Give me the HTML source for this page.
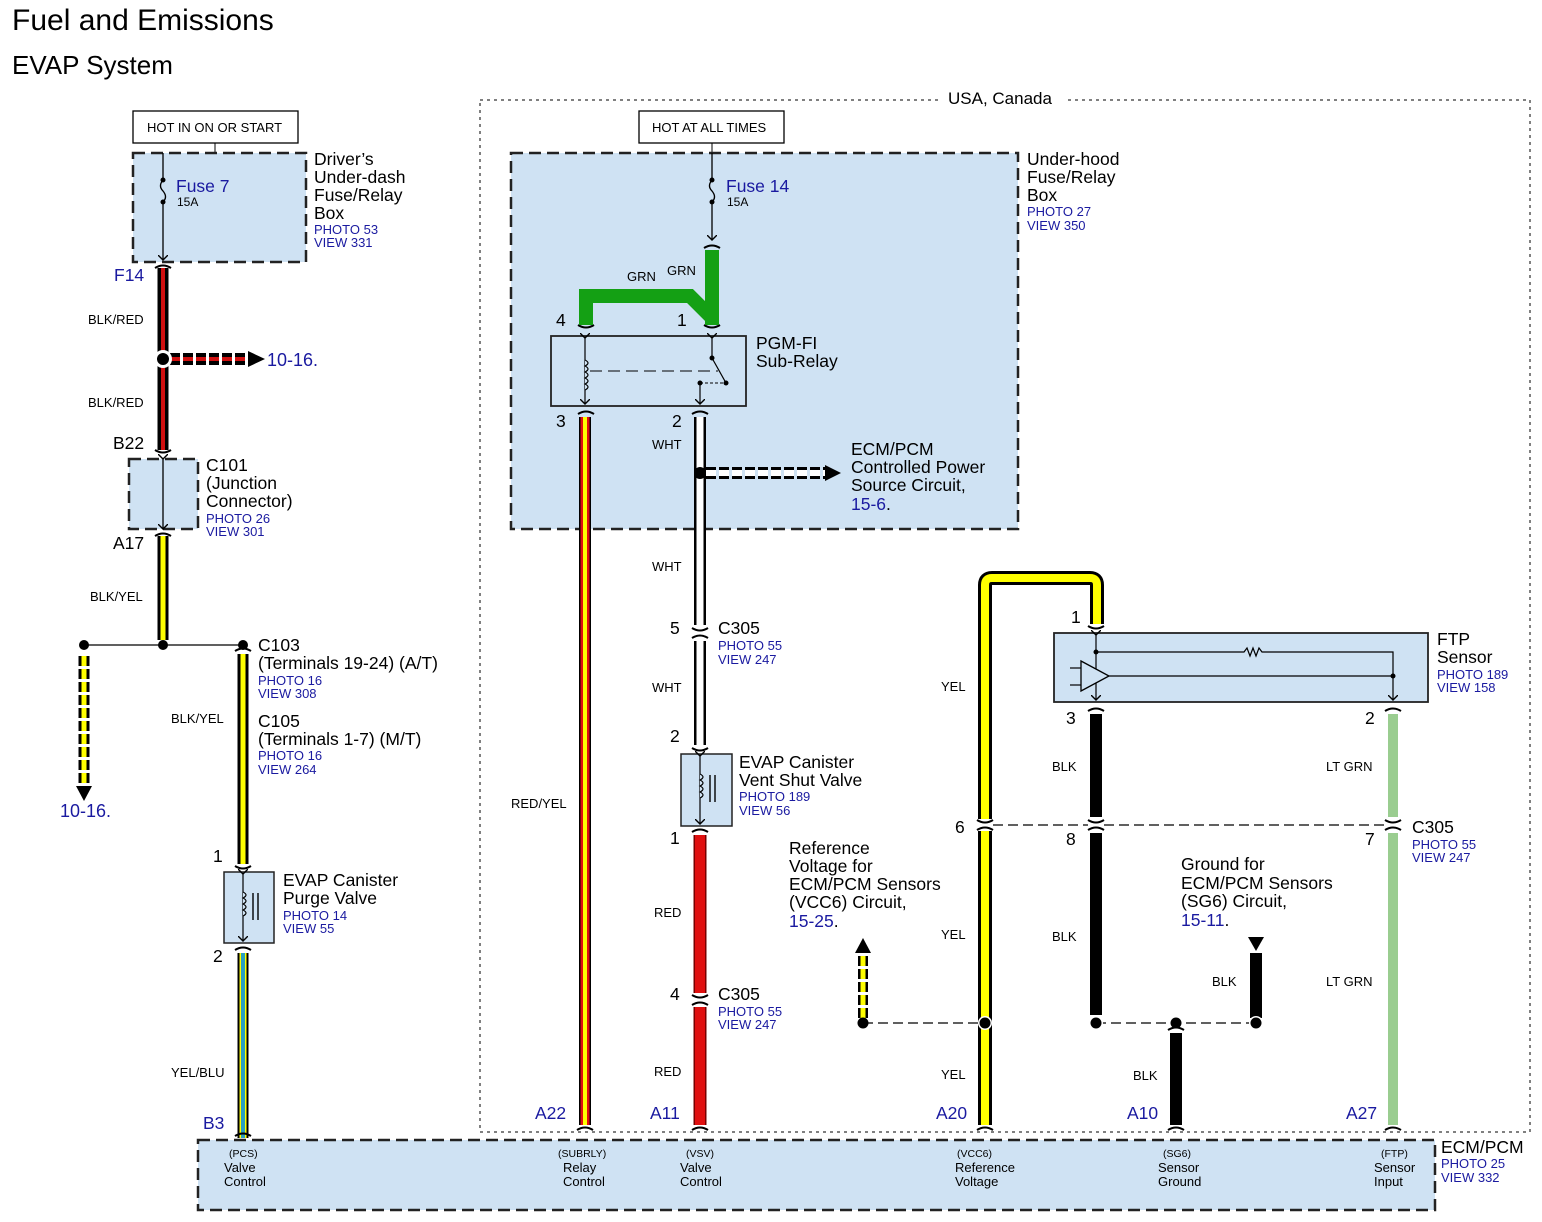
<!DOCTYPE html>
<html><head><meta charset="utf-8"><style>
html,body{margin:0;padding:0;background:#fff;}
svg{display:block;font-family:"Liberation Sans",Arial,sans-serif;}
.b{fill:#1a1aa0}
</style></head><body>
<svg width="1542" height="1222" viewBox="0 0 1542 1222" xmlns="http://www.w3.org/2000/svg">
<defs>
<marker id="ah" markerWidth="10" markerHeight="10" refX="5" refY="5" orient="auto" markerUnits="userSpaceOnUse"><path d="M0,0 L5,5 L0,10" fill="none" stroke="#000" stroke-width="1.4"/></marker>
</defs>
<rect width="1542" height="1222" fill="#fff"/>
<text x="12" y="30" font-size="30">Fuel and Emissions</text>
<text x="12" y="74" font-size="26">EVAP System</text>

<rect x="480" y="100" width="1050" height="1032" fill="none" stroke="#000" stroke-width="1" stroke-dasharray="3,4"/>
<rect x="942" y="88" width="122" height="20" fill="#fff"/>
<text x="948" y="104" font-size="17">USA, Canada</text>

<rect x="133" y="111" width="165" height="32" fill="#fff" stroke="#000" stroke-width="1.3"/>
<text x="147" y="132" font-size="13">HOT IN ON OR START</text>
<rect x="639" y="111" width="145" height="32" fill="#fff" stroke="#000" stroke-width="1.3"/>
<text x="652" y="132" font-size="13">HOT AT ALL TIMES</text>
<line x1="215" y1="143" x2="215" y2="153" stroke="#000"/>
<line x1="712" y1="143" x2="712" y2="153" stroke="#000"/>

<g fill="#cfe2f3" stroke="#222" stroke-width="2.5" stroke-dasharray="12,6">
<rect x="133" y="153" width="173" height="109"/>
<rect x="511" y="153" width="507" height="376"/>
<rect x="129" y="459" width="69" height="70"/>
<rect x="198" y="1140" width="1237" height="70"/>
</g>

<line x1="163" y1="153" x2="163" y2="180" stroke="#000" stroke-width="1.3"/>
<path d="M163,180 q-5,6 0,11 q5,6 0,11" fill="none" stroke="#000" stroke-width="1.3"/>
<circle cx="163" cy="180" r="2.5"/><circle cx="163" cy="202" r="2.5"/>
<line x1="163" y1="202" x2="163" y2="260" stroke="#000" stroke-width="1.3" marker-end="url(#ah)"/>
<text x="176" y="192" font-size="17.5" class="b">Fuse 7</text>
<text x="177" y="206" font-size="12">15A</text>
<text x="314" y="165" font-size="17.5">Driver’s</text>
<text x="314" y="183" font-size="17.5">Under-dash</text>
<text x="314" y="201" font-size="17.5">Fuse/Relay</text>
<text x="314" y="219" font-size="17.5">Box</text>
<text x="314" y="234" font-size="13" class="b">PHOTO 53</text>
<text x="314" y="247" font-size="13" class="b">VIEW 331</text>

<line x1="712" y1="153" x2="712" y2="180" stroke="#000" stroke-width="1.3"/>
<path d="M712,180 q-5,6 0,11 q5,6 0,11" fill="none" stroke="#000" stroke-width="1.3"/>
<circle cx="712" cy="180" r="2.5"/><circle cx="712" cy="202" r="2.5"/>
<line x1="712" y1="202" x2="712" y2="240" stroke="#000" stroke-width="1.3" marker-end="url(#ah)"/>
<text x="726" y="192" font-size="17.5" class="b">Fuse 14</text>
<text x="727" y="206" font-size="12">15A</text>
<text x="1027" y="165" font-size="17.5">Under-hood</text>
<text x="1027" y="183" font-size="17.5">Fuse/Relay</text>
<text x="1027" y="201" font-size="17.5">Box</text>
<text x="1027" y="216" font-size="13" class="b">PHOTO 27</text>
<text x="1027" y="230" font-size="13" class="b">VIEW 350</text>

<g fill="none" stroke="#000" stroke-width="2">
<path d="M155,268 q8,-5 16,0 M155,450 q8,5 16,0 M155,536 q8,-5 16,0 M235,651 q8,-5 16,0 M235,866 q8,5 16,0 M235,950 q8,-5 16,0"/>
<path d="M704,248 q8,-5 16,0 M578,325 q8,5 16,0 M704,325 q8,5 16,0 M578,414 q8,-5 16,0 M692,414 q8,-5 16,0"/>
<path d="M692,628 q8,5 16,0 M692,638 q8,-5 16,0 M692,748 q8,5 16,0 M692,832 q8,-5 16,0 M692,995 q8,5 16,0 M692,1005 q8,-5 16,0"/>
<path d="M1088,626 q8,5 16,0 M1088,711 q8,-5 16,0 M1385,711 q8,-5 16,0"/>
<path d="M977,820 q8,5 16,0 M977,830 q8,-5 16,0 M1088,820 q8,5 16,0 M1088,830 q8,-5 16,0 M1385,820 q8,5 16,0 M1385,830 q8,-5 16,0"/>
<path d="M1168,1030 q8,-5 16,0"/>
</g>

<line x1="163" y1="268" x2="163" y2="450" stroke="#000" stroke-width="11"/>
<line x1="163" y1="268" x2="163" y2="450" stroke="#d01010" stroke-width="4"/>
<line x1="163" y1="459" x2="163" y2="529" stroke="#000" stroke-width="1.3" marker-start="url(#ah)" marker-end="url(#ah)"/>
<line x1="163" y1="536" x2="163" y2="640" stroke="#000" stroke-width="11"/>
<line x1="163" y1="536" x2="163" y2="640" stroke="#ffff00" stroke-width="5"/>
<text x="88" y="324" font-size="13">BLK/RED</text>
<text x="88" y="407" font-size="13">BLK/RED</text>
<text x="114" y="281" font-size="17.5" class="b">F14</text>
<text x="113" y="449" font-size="17.5">B22</text>
<text x="113" y="549" font-size="17.5">A17</text>
<text x="206" y="471" font-size="17.5">C101</text>
<text x="206" y="489" font-size="17.5">(Junction</text>
<text x="206" y="507" font-size="17.5">Connector)</text>
<text x="206" y="523" font-size="13" class="b">PHOTO 26</text>
<text x="206" y="536" font-size="13" class="b">VIEW 301</text>
<text x="90" y="601" font-size="13">BLK/YEL</text>
<line x1="170" y1="359" x2="250" y2="359" stroke="#000" stroke-width="12" stroke-dasharray="10,3"/>
<line x1="170" y1="359" x2="250" y2="359" stroke="#d01010" stroke-width="4" stroke-dasharray="10,3"/>
<path d="M248,351 L265,359 L248,367 Z"/>
<circle cx="163" cy="359" r="9" fill="#fff"/><circle cx="163" cy="359" r="6"/>
<text x="267" y="366" font-size="18" class="b">10-16.</text>

<line x1="84" y1="645" x2="243" y2="645" stroke="#000" stroke-width="1.3"/>
<circle cx="84" cy="645" r="5"/><circle cx="163" cy="645" r="5"/><circle cx="243" cy="645" r="5"/>
<line x1="84" y1="656" x2="84" y2="786" stroke="#000" stroke-width="11" stroke-dasharray="10,3"/>
<line x1="84" y1="656" x2="84" y2="786" stroke="#ffff00" stroke-width="5" stroke-dasharray="10,3"/>
<path d="M76,786 L84,801 L92,786 Z"/>
<text x="60" y="817" font-size="18" class="b">10-16.</text>

<line x1="243" y1="654" x2="243" y2="864" stroke="#000" stroke-width="11"/>
<line x1="243" y1="654" x2="243" y2="864" stroke="#ffff00" stroke-width="5"/>
<text x="171" y="723" font-size="13">BLK/YEL</text>
<text x="258" y="651" font-size="17.5">C103</text>
<text x="258" y="669" font-size="17.5">(Terminals 19-24) (A/T)</text>
<text x="258" y="685" font-size="13" class="b">PHOTO 16</text>
<text x="258" y="698" font-size="13" class="b">VIEW 308</text>
<text x="258" y="727" font-size="17.5">C105</text>
<text x="258" y="745" font-size="17.5">(Terminals 1-7) (M/T)</text>
<text x="258" y="760" font-size="13" class="b">PHOTO 16</text>
<text x="258" y="774" font-size="13" class="b">VIEW 264</text>
<text x="213" y="862" font-size="17.5">1</text>
<text x="213" y="962" font-size="17.5">2</text>
<rect x="224" y="872" width="50" height="71" fill="#cfe2f3" stroke="#222" stroke-width="1.5"/>
<line x1="243" y1="874" x2="243" y2="941" stroke="#000" stroke-width="1.2" marker-start="url(#ah)" marker-end="url(#ah)"/>
<path d="M243,892 q6,3 0,6 q6,3 0,6 q6,3 0,6 q6,3 0,6" fill="#cfe2f3" stroke="#000" stroke-width="1.2"/>
<line x1="253" y1="893" x2="253" y2="920" stroke="#000" stroke-width="1.4"/>
<line x1="258" y1="893" x2="258" y2="920" stroke="#000" stroke-width="1.4"/>
<text x="283" y="886" font-size="17.5">EVAP Canister</text>
<text x="283" y="904" font-size="17.5">Purge Valve</text>
<text x="283" y="920" font-size="13" class="b">PHOTO 14</text>
<text x="283" y="933" font-size="13" class="b">VIEW 55</text>
<line x1="243" y1="953" x2="243" y2="1138" stroke="#000" stroke-width="11"/>
<line x1="243" y1="953" x2="243" y2="1138" stroke="#ffff00" stroke-width="7"/>
<line x1="243" y1="953" x2="243" y2="1138" stroke="#2aa0c0" stroke-width="4"/>
<text x="171" y="1077" font-size="13">YEL/BLU</text>
<text x="203" y="1129" font-size="17.5" class="b">B3</text>

<path d="M712,250 L712,325 M712,318 L690,296 L586,296 L586,325" fill="none" stroke="#14a014" stroke-width="14" stroke-linejoin="miter"/>
<text x="627" y="281" font-size="13">GRN</text>
<text x="667" y="275" font-size="13">GRN</text>
<text x="556" y="326" font-size="17.5">4</text>
<text x="677" y="326" font-size="17.5">1</text>
<rect x="551" y="336" width="195" height="70" fill="#cfe2f3" stroke="#222" stroke-width="1.8"/>
<line x1="585" y1="338" x2="585" y2="404" stroke="#000" stroke-width="1.2" marker-start="url(#ah)" marker-end="url(#ah)"/>
<path d="M585,360 q6,3 0,6 q6,3 0,6 q6,3 0,6 q6,3 0,6 q6,3 0,6" fill="#cfe2f3" stroke="#000" stroke-width="1.2"/>
<line x1="712" y1="338" x2="712" y2="358" stroke="#000" stroke-width="1.2" marker-start="url(#ah)"/>
<circle cx="712" cy="358" r="2.5"/>
<line x1="712" y1="358" x2="726" y2="383" stroke="#000" stroke-width="1.2"/>
<circle cx="726" cy="383" r="2.5"/><circle cx="700" cy="383" r="2.5"/>
<line x1="700" y1="383" x2="726" y2="383" stroke="#000" stroke-width="1" stroke-dasharray="3,2"/>
<line x1="700" y1="383" x2="700" y2="404" stroke="#000" stroke-width="1.2" marker-end="url(#ah)"/>
<line x1="590" y1="371" x2="718" y2="371" stroke="#000" stroke-width="1" stroke-dasharray="12,6"/>
<text x="756" y="349" font-size="17.5">PGM-FI</text>
<text x="756" y="367" font-size="17.5">Sub-Relay</text>
<text x="556" y="427" font-size="17.5">3</text>
<text x="672" y="427" font-size="17.5">2</text>

<line x1="585" y1="417" x2="585" y2="1125" stroke="#000" stroke-width="12"/>
<line x1="585" y1="417" x2="585" y2="1125" stroke="#e01010" stroke-width="9"/>
<line x1="585" y1="417" x2="585" y2="1125" stroke="#ffff00" stroke-width="4"/>
<text x="511" y="808" font-size="13">RED/YEL</text>
<text x="535" y="1119" font-size="17.5" class="b">A22</text>

<line x1="700" y1="417" x2="700" y2="625" stroke="#000" stroke-width="12"/>
<line x1="700" y1="417" x2="700" y2="625" stroke="#fff" stroke-width="7"/>
<line x1="700" y1="641" x2="700" y2="745" stroke="#000" stroke-width="12"/>
<line x1="700" y1="641" x2="700" y2="745" stroke="#fff" stroke-width="7"/>
<text x="652" y="449" font-size="13">WHT</text>
<text x="652" y="571" font-size="13">WHT</text>
<text x="652" y="692" font-size="13">WHT</text>
<line x1="706" y1="473" x2="826" y2="473" stroke="#000" stroke-width="12" stroke-dasharray="10,3"/>
<line x1="706" y1="473" x2="826" y2="473" stroke="#fff" stroke-width="6" stroke-dasharray="10,3"/>
<path d="M825,465 L841,473 L825,481 Z"/>
<circle cx="700" cy="473" r="6"/>
<text x="851" y="455" font-size="17.5">ECM/PCM</text>
<text x="851" y="473" font-size="17.5">Controlled Power</text>
<text x="851" y="491" font-size="17.5">Source Circuit,</text>
<text x="851" y="510" font-size="17.5" class="b">15-6<tspan fill="#000">.</tspan></text>
<text x="670" y="634" font-size="17.5">5</text>
<text x="718" y="634" font-size="17.5">C305</text>
<text x="718" y="650" font-size="13" class="b">PHOTO 55</text>
<text x="718" y="664" font-size="13" class="b">VIEW 247</text>
<text x="670" y="742" font-size="17.5">2</text>
<rect x="681" y="754" width="51" height="72" fill="#cfe2f3" stroke="#222" stroke-width="1.5"/>
<line x1="700" y1="756" x2="700" y2="824" stroke="#000" stroke-width="1.2" marker-start="url(#ah)" marker-end="url(#ah)"/>
<path d="M700,774 q6,3 0,6 q6,3 0,6 q6,3 0,6 q6,3 0,6" fill="#cfe2f3" stroke="#000" stroke-width="1.2"/>
<line x1="710" y1="775" x2="710" y2="802" stroke="#000" stroke-width="1.4"/>
<line x1="715" y1="775" x2="715" y2="802" stroke="#000" stroke-width="1.4"/>
<text x="739" y="768" font-size="17.5">EVAP Canister</text>
<text x="739" y="786" font-size="17.5">Vent Shut Valve</text>
<text x="739" y="801" font-size="13" class="b">PHOTO 189</text>
<text x="739" y="815" font-size="13" class="b">VIEW 56</text>
<text x="670" y="844" font-size="17.5">1</text>
<line x1="700" y1="835" x2="700" y2="993" stroke="#7a0000" stroke-width="13"/>
<line x1="700" y1="835" x2="700" y2="993" stroke="#e01010" stroke-width="10"/>
<line x1="700" y1="1007" x2="700" y2="1125" stroke="#7a0000" stroke-width="13"/>
<line x1="700" y1="1007" x2="700" y2="1125" stroke="#e01010" stroke-width="10"/>
<text x="654" y="917" font-size="13">RED</text>
<text x="654" y="1076" font-size="13">RED</text>
<text x="670" y="1000" font-size="17.5">4</text>
<text x="718" y="1000" font-size="17.5">C305</text>
<text x="718" y="1016" font-size="13" class="b">PHOTO 55</text>
<text x="718" y="1029" font-size="13" class="b">VIEW 247</text>
<text x="650" y="1119" font-size="17.5" class="b">A11</text>

<path d="M985,1125 L985,585 Q985,578 992,578 L1090,578 Q1097,578 1097,585 L1097,624" fill="none" stroke="#000" stroke-width="14"/>
<path d="M985,1125 L985,585 Q985,578 992,578 L1090,578 Q1097,578 1097,585 L1097,624" fill="none" stroke="#ffff00" stroke-width="8"/>
<rect x="976" y="819" width="18" height="12" fill="#fff"/>
<path d="M977,820 q8,5 16,0 M977,830 q8,-5 16,0" fill="none" stroke="#000" stroke-width="2"/>
<text x="941" y="691" font-size="13">YEL</text>
<text x="941" y="939" font-size="13">YEL</text>
<text x="941" y="1079" font-size="13">YEL</text>
<text x="955" y="833" font-size="17.5">6</text>
<text x="936" y="1119" font-size="17.5" class="b">A20</text>
<text x="1071" y="623" font-size="17.5">1</text>

<rect x="1054" y="633" width="374" height="69" fill="#cfe2f3" stroke="#222" stroke-width="1.8"/>
<line x1="1096" y1="635" x2="1096" y2="700" stroke="#000" stroke-width="1.2" marker-start="url(#ah)" marker-end="url(#ah)"/>
<path d="M1096,652 L1244,652 l3,-4 l3,8 l3,-8 l3,8 l3,-8 l3,4 L1393,652 L1393,700" fill="none" stroke="#000" stroke-width="1.2" marker-end="url(#ah)"/>
<circle cx="1096" cy="652" r="2.5"/><circle cx="1393" cy="676" r="2.5"/>
<path d="M1081,661 L1109,676 L1081,691 Z" fill="#cfe2f3" stroke="#000" stroke-width="1.3"/>
<line x1="1070" y1="668" x2="1081" y2="668" stroke="#000" stroke-width="1.2"/>
<line x1="1070" y1="685" x2="1081" y2="685" stroke="#000" stroke-width="1.2"/>
<line x1="1109" y1="676" x2="1393" y2="676" stroke="#000" stroke-width="1.2"/>
<text x="1437" y="645" font-size="17.5">FTP</text>
<text x="1437" y="663" font-size="17.5">Sensor</text>
<text x="1437" y="679" font-size="13" class="b">PHOTO 189</text>
<text x="1437" y="692" font-size="13" class="b">VIEW 158</text>
<text x="1066" y="724" font-size="17.5">3</text>
<text x="1365" y="724" font-size="17.5">2</text>

<line x1="1096" y1="714" x2="1096" y2="817" stroke="#000" stroke-width="12"/>
<line x1="1096" y1="833" x2="1096" y2="1015" stroke="#000" stroke-width="12"/>
<text x="1052" y="771" font-size="13">BLK</text>
<text x="1052" y="941" font-size="13">BLK</text>
<text x="1066" y="845" font-size="17.5">8</text>
<line x1="1393" y1="714" x2="1393" y2="817" stroke="#9acd90" stroke-width="10"/>
<line x1="1393" y1="833" x2="1393" y2="1125" stroke="#9acd90" stroke-width="10"/>
<text x="1326" y="771" font-size="13">LT GRN</text>
<text x="1326" y="986" font-size="13">LT GRN</text>
<text x="1365" y="845" font-size="17.5">7</text>
<text x="1412" y="833" font-size="17.5">C305</text>
<text x="1412" y="849" font-size="13" class="b">PHOTO 55</text>
<text x="1412" y="862" font-size="13" class="b">VIEW 247</text>
<text x="1346" y="1119" font-size="17.5" class="b">A27</text>
<line x1="993" y1="825" x2="1088" y2="825" stroke="#000" stroke-width="1.2" stroke-dasharray="10,5"/>
<line x1="1104" y1="825" x2="1385" y2="825" stroke="#000" stroke-width="1.2" stroke-dasharray="10,5"/>

<text x="789" y="854" font-size="17.5">Reference</text>
<text x="789" y="872" font-size="17.5">Voltage for</text>
<text x="789" y="890" font-size="17.5">ECM/PCM Sensors</text>
<text x="789" y="908" font-size="17.5">(VCC6) Circuit,</text>
<text x="789" y="927" font-size="17.5" class="b">15-25<tspan fill="#000">.</tspan></text>
<text x="1181" y="870" font-size="17.5">Ground for</text>
<text x="1181" y="889" font-size="17.5">ECM/PCM Sensors</text>
<text x="1181" y="907" font-size="17.5">(SG6) Circuit,</text>
<text x="1181" y="926" font-size="17.5" class="b">15-11<tspan fill="#000">.</tspan></text>
<line x1="863" y1="1023" x2="985" y2="1023" stroke="#000" stroke-width="1.3" stroke-dasharray="10,5"/>
<line x1="1096" y1="1023" x2="1256" y2="1023" stroke="#000" stroke-width="1.3" stroke-dasharray="10,5"/>
<line x1="863" y1="1018" x2="863" y2="953" stroke="#000" stroke-width="10" stroke-dasharray="10,3"/>
<line x1="863" y1="1018" x2="863" y2="953" stroke="#ffff00" stroke-width="5" stroke-dasharray="10,3"/>
<path d="M855,953 L863,938 L871,953 Z"/>
<path d="M1248,937 L1264,937 L1256,951 Z"/>
<line x1="1256" y1="953" x2="1256" y2="1018" stroke="#000" stroke-width="12"/>
<text x="1212" y="986" font-size="13">BLK</text>
<line x1="1176" y1="1033" x2="1176" y2="1125" stroke="#000" stroke-width="12"/>
<text x="1133" y="1080" font-size="13">BLK</text>
<text x="1127" y="1119" font-size="17.5" class="b">A10</text>
<g><circle cx="863" cy="1023" r="5.5"/><circle cx="985" cy="1023" r="7" fill="#fff"/><circle cx="985" cy="1023" r="5.5"/>
<circle cx="1096" cy="1023" r="7" fill="#fff"/><circle cx="1096" cy="1023" r="5.5"/><circle cx="1176" cy="1023" r="5.5"/><circle cx="1256" cy="1023" r="7" fill="#fff"/><circle cx="1256" cy="1023" r="5.5"/></g>

<g fill="none" stroke="#000" stroke-width="2">
<path d="M235,1136 q8,-5 16,0 M577,1130 q8,-5 16,0 M692,1130 q8,-5 16,0 M977,1130 q8,-5 16,0 M1168,1130 q8,-5 16,0 M1385,1130 q8,-5 16,0"/>
</g>

<g font-size="13">
<text x="229" y="1157" font-size="10.5">(PCS)</text><text x="224" y="1172">Valve</text><text x="224" y="1186">Control</text>
<text x="558" y="1157" font-size="10.5">(SUBRLY)</text><text x="563" y="1172">Relay</text><text x="563" y="1186">Control</text>
<text x="686" y="1157" font-size="10.5">(VSV)</text><text x="680" y="1172">Valve</text><text x="680" y="1186">Control</text>
<text x="957" y="1157" font-size="10.5">(VCC6)</text><text x="955" y="1172">Reference</text><text x="955" y="1186">Voltage</text>
<text x="1163" y="1157" font-size="10.5">(SG6)</text><text x="1158" y="1172">Sensor</text><text x="1158" y="1186">Ground</text>
<text x="1381" y="1157" font-size="10.5">(FTP)</text><text x="1374" y="1172">Sensor</text><text x="1374" y="1186">Input</text>
</g>
<text x="1441" y="1153" font-size="17.5">ECM/PCM</text>
<text x="1441" y="1168" font-size="13" class="b">PHOTO 25</text>
<text x="1441" y="1182" font-size="13" class="b">VIEW 332</text>
</svg>
</body></html>
